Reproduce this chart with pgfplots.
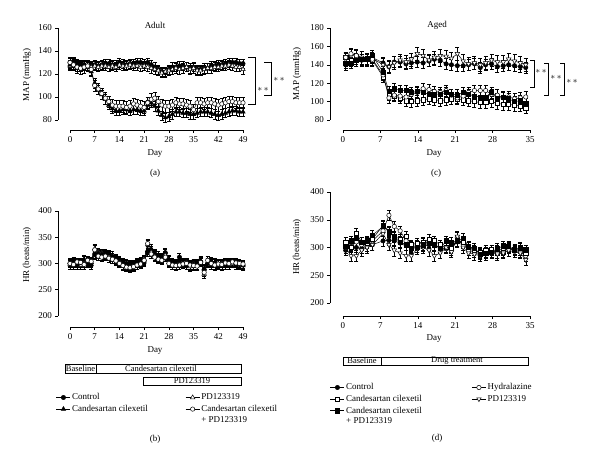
\documentclass[border=0pt]{standalone}
\usepackage{pgfplots}
\pgfplotsset{compat=1.18}
\usepackage{fontspec}
\setmainfont{Liberation Serif}
\newcommand\fs{\fontsize{9}{10.5}\selectfont}
\newcommand\fb{\fontsize{8.5}{10}\selectfont}
\pgfplotsset{
  base/.style={scale only axis, axis lines*=left, axis line style={draw=none},
    tick align=outside, major tick length=3pt, tick style={black, line width=0.5pt},
    tick label style={font=\fs}, /pgf/number format/assume math mode=true, clip=false,
    legend image code/.code={\draw[mark repeat=2,mark phase=2,##1] plot coordinates {(0pt,0pt) (7pt,0pt) (14pt,0pt)};}},
  ebar/.style={error bars/.cd, y dir=both, y fixed=#1,
    error mark options={rotate=90, mark size=2pt, line width=0.4pt}, error bar style={line width=0.4pt}},
  fc/.style={black, line width=0.5pt, mark=*, mark size=2.2pt, mark options={solid, fill=black}},
  oc/.style={black, line width=0.5pt, mark=*, mark size=2.2pt, mark options={solid, fill=white}},
  ft/.style={black, line width=0.5pt, mark=triangle*, mark size=2.6pt, mark options={solid, fill=black}},
  ot/.style={black, line width=0.5pt, mark=triangle*, mark size=2.6pt, mark options={solid, fill=white}},
  fsq/.style={black, line width=0.5pt, mark=square*, mark size=2.1pt, mark options={solid, fill=black}},
  osq/.style={black, line width=0.5pt, mark=square*, mark size=2.1pt, mark options={solid, fill=white}},
  it/.style={black, line width=0.5pt, mark=triangle*, mark size=2.6pt, mark options={solid, fill=white, rotate=180}},
}
\begin{document}
\begin{tikzpicture}
\path[use as bounding box] (0,0) rectangle (600pt,464pt);
\fs
% ---------------- (a) Adult MAP
\begin{axis}[base, at={(58pt,334pt)}, anchor=south west, width=185pt, height=102pt,
  xmin=-3.4, xmax=49, ymin=71.3, ymax=160, xtick={0,7,...,49}, ytick={80,100,...,160}]
\addplot[fc, ebar=4] coordinates {(0,130)(1,131)(2,129)(3,128)(4,128)(5,127)(6,127)(7,128)(8,127)(9,128)(10,129)(11,129)(12,128)(13,128)(14,130)(15,129)(16,128)(17,129)(18,129)(19,130)(20,130)(21,129)(22,130)(23,128)(24,126)(25,124)(26,122)(27,121)(28,124)(29,126)(30,126)(31,127)(32,127)(33,126)(34,125)(35,126)(36,124)(37,124)(38,125)(39,125)(40,127)(41,127)(42,128)(43,128)(44,129)(45,130)(46,130)(47,130)(48,129)(49,129)};
\addplot[ot, ebar=4] coordinates {(0,127)(1,128)(2,126)(3,126)(4,127)(5,126)(6,126)(7,127)(8,126)(9,127)(10,127)(11,126)(12,127)(13,126)(14,128)(15,127)(16,127)(17,128)(18,127)(19,127)(20,126)(21,127)(22,126)(23,125)(24,124)(25,123)(26,121)(27,122)(28,123)(29,124)(30,125)(31,124)(32,125)(33,126)(34,124)(35,125)(36,123)(37,123)(38,124)(39,125)(40,125)(41,126)(42,126)(43,127)(44,127)(45,128)(46,127)(47,126)(48,126)(49,124)};
\addplot[ft, ebar=4] coordinates {(0,128)(1,130)(2,128)(3,127)(4,128)(5,126)(6,122)(7,112)(8,106)(9,102)(10,98)(11,93)(12,90)(13,88)(14,88)(15,89)(16,89)(17,88)(18,89)(19,89)(20,88)(21,88)(22,93)(23,95)(24,92)(25,88)(26,84)(27,82)(28,83)(29,85)(30,87)(31,87)(32,86)(33,86)(34,85)(35,85)(36,86)(37,87)(38,87)(39,87)(40,86)(41,85)(42,84)(43,85)(44,86)(45,87)(46,88)(47,88)(48,87)(49,87)};
\addplot[oc, ebar=5] coordinates {(0,130)(1,128)(2,126)(3,125)(4,126)(5,127)(6,124)(7,110)(8,107)(9,103)(10,99)(11,96)(12,93)(13,92)(14,92)(15,92)(16,91)(17,92)(18,94)(19,93)(20,92)(21,91)(22,95)(23,98)(24,99)(25,96)(26,93)(27,92)(28,92)(29,93)(30,95)(31,94)(32,94)(33,93)(34,92)(35,89)(36,95)(37,95)(38,94)(39,95)(40,95)(41,94)(42,93)(43,94)(44,95)(45,96)(46,96)(47,95)(48,95)(49,95)};
\draw[line width=0.5pt] (axis cs:-3.4,80) -- (axis cs:-3.4,160);
\draw[line width=0.5pt] (axis cs:0,71.3) -- (axis cs:49,71.3);
\end{axis}
% ---------------- (c) Aged MAP
\begin{axis}[base, at={(330pt,334pt)}, anchor=south west, width=200pt, height=102pt,
  xmin=-2.43, xmax=35, ymin=69.1, ymax=180, xtick={0,7,...,35}, ytick={80,100,...,180}]
\addplot[fc, ebar=6] coordinates {(0.5,140)(1.5,142)(2.5,145)(3.5,145)(4.5,147)(5.5,148)(7.5,142)(8.6,138)(9.6,143)(10.7,143)(11.8,141)(12.8,142)(13.9,143)(15.0,142)(16.1,144)(17.1,146)(18.2,145)(19.3,141)(20.3,140)(21.4,139)(22.5,139)(23.5,140)(24.6,141)(25.7,137)(26.7,140)(27.8,141)(28.9,138)(30.0,139)(31.0,140)(32.1,139)(33.2,138)(34.2,137)};
\addplot[it, ebar=7] coordinates {(0.5,146)(1.5,150)(2.5,150)(3.5,148)(4.5,146)(5.5,147)(7.5,140)(8.6,138)(9.6,142)(10.7,145)(11.8,143)(12.8,146)(13.9,152)(15.0,150)(16.1,145)(17.1,148)(18.2,150)(19.3,149)(20.3,147)(21.4,152)(22.5,144)(23.5,141)(24.6,142)(25.7,140)(26.7,142)(27.8,145)(28.9,143)(30.0,143)(31.0,146)(32.1,144)(33.2,142)(34.2,140)};
\addplot[osq, ebar=6] coordinates {(0.5,148)(1.5,145)(2.5,147)(3.5,146)(4.5,146)(5.5,145)(7.5,127)(8.6,108)(9.6,106)(10.7,104)(11.8,101)(12.8,100)(13.9,101)(15.0,102)(16.1,103)(17.1,102)(18.2,101)(19.3,102)(20.3,103)(21.4,103)(22.5,102)(23.5,101)(24.6,100)(25.7,99)(26.7,99)(27.8,100)(28.9,98)(30.0,97)(31.0,97)(32.1,96)(33.2,95)(34.2,93)};
\addplot[oc, ebar=6] coordinates {(0.5,148)(1.5,152)(2.5,150)(3.5,146)(4.5,147)(5.5,146)(7.5,129)(8.6,104)(9.6,107)(10.7,106)(11.8,105)(12.8,108)(13.9,110)(15.0,114)(16.1,113)(17.1,111)(18.2,110)(19.3,112)(20.3,107)(21.4,104)(22.5,106)(23.5,110)(24.6,112)(25.7,112)(26.7,112)(27.8,108)(28.9,107)(30.0,104)(31.0,105)(32.1,103)(33.2,104)(34.2,105)};
\addplot[fsq, ebar=6] coordinates {(0.5,142)(1.5,142)(2.5,145)(3.5,146)(4.5,147)(5.5,150)(7.5,132)(8.6,111)(9.6,114)(10.7,112)(11.8,112)(12.8,110)(13.9,111)(15.0,110)(16.1,108)(17.1,108)(18.2,108)(19.3,110)(20.3,108)(21.4,107)(22.5,110)(23.5,108)(24.6,106)(25.7,105)(26.7,105)(27.8,110)(28.9,103)(30.0,105)(31.0,103)(32.1,100)(33.2,101)(34.2,98)};
\draw[line width=0.5pt] (axis cs:-2.43,80) -- (axis cs:-2.43,180);
\draw[line width=0.5pt] (axis cs:0,69.1) -- (axis cs:35,69.1);
\end{axis}
% ---------------- (b) Adult HR
\begin{axis}[base, at={(58pt,137pt)}, anchor=south west, width=185pt, height=116pt,
  xmin=-3.4, xmax=49, ymin=179, ymax=400, xtick={0,7,...,49}, ytick={200,250,...,400},
  legend columns=2, legend cell align=left,
  legend style={at={(0,0)}, anchor=north west, xshift=-2pt, yshift=-65pt, draw=none, fill=none,
    font=\fs, inner sep=0pt, row sep=1pt, nodes={inner sep=1.5pt},
    /tikz/every even column/.append style={column sep=36pt}}]
\addplot[fc, ebar=8] coordinates {(0,300)(1,302)(2,300)(3,298)(4,305)(5,302)(6,300)(7,318)(8,318)(9,315)(10,316)(11,314)(12,312)(13,308)(14,305)(15,303)(16,300)(17,298)(18,298)(19,300)(20,302)(21,305)(22,322)(23,325)(24,318)(25,312)(26,310)(27,320)(28,305)(29,302)(30,300)(31,312)(32,300)(33,300)(34,298)(35,300)(36,298)(37,303)(38,288)(39,300)(40,302)(41,300)(42,298)(43,298)(44,300)(45,302)(46,300)(47,298)(48,298)(49,297)};
\addlegendentry{Control}
\addplot[ot, ebar=8] coordinates {(0,298)(1,300)(2,301)(3,297)(4,300)(5,304)(6,302)(7,328)(8,322)(9,320)(10,318)(11,316)(12,312)(13,306)(14,304)(15,298)(16,295)(17,294)(18,296)(19,298)(20,300)(21,308)(22,336)(23,322)(24,315)(25,310)(26,308)(27,316)(28,302)(29,298)(30,297)(31,298)(32,300)(33,302)(34,294)(35,300)(36,296)(37,304)(38,280)(39,302)(40,298)(41,296)(42,298)(43,300)(44,302)(45,298)(46,300)(47,302)(48,300)(49,298)};
\addlegendentry{PD123319}
\addplot[ft, ebar=8] coordinates {(0,302)(1,304)(2,298)(3,300)(4,308)(5,300)(6,298)(7,316)(8,320)(9,318)(10,320)(11,318)(12,315)(13,310)(14,303)(15,300)(16,298)(17,296)(18,297)(19,302)(20,304)(21,303)(22,325)(23,328)(24,320)(25,315)(26,312)(27,322)(28,308)(29,300)(30,298)(31,300)(32,302)(33,298)(34,296)(35,298)(36,300)(37,306)(38,290)(39,302)(40,304)(41,302)(42,300)(43,296)(44,298)(45,300)(46,302)(47,300)(48,299)(49,296)};
\addlegendentry{Candesartan cilexetil}
\addplot[oc, ebar=8] coordinates {(0,300)(1,298)(2,303)(3,302)(4,298)(5,306)(6,304)(7,326)(8,314)(9,312)(10,314)(11,310)(12,308)(13,305)(14,300)(15,296)(16,293)(17,292)(18,294)(19,297)(20,299)(21,306)(22,338)(23,318)(24,312)(25,308)(26,306)(27,312)(28,300)(29,297)(30,296)(31,297)(32,299)(33,300)(34,297)(35,296)(36,295)(37,302)(38,283)(39,306)(40,300)(41,297)(42,299)(43,298)(44,301)(45,300)(46,303)(47,301)(48,300)(49,299)};
\addlegendentry{\parbox[t]{100pt}{Candesartan cilexetil\\+ PD123319}}
\draw[line width=0.5pt] (axis cs:-3.4,200) -- (axis cs:-3.4,400);
\draw[line width=0.5pt] (axis cs:0,179) -- (axis cs:49,179);
\end{axis}
% ---------------- (d) Aged HR
\begin{axis}[base, at={(330pt,148pt)}, anchor=south west, width=200pt, height=124pt,
  xmin=-2.43, xmax=35, ymin=176.6, ymax=400, xtick={0,7,...,35}, ytick={200,250,...,400},
  legend columns=2, legend cell align=left,
  legend style={at={(0,0)}, anchor=north west, xshift=0pt, yshift=-66pt, draw=none, fill=none,
    font=\fs, inner sep=0pt, row sep=1pt, nodes={inner sep=1.5pt},
    /tikz/every even column/.append style={column sep=24pt}}]
\addplot[fc, ebar=9] coordinates {(0.5,295)(1.5,300)(2.5,300)(3.5,298)(4.5,303)(5.5,305)(7.5,312)(8.6,313)(9.6,312)(10.7,308)(11.8,305)(12.8,302)(13.9,300)(15.0,302)(16.1,305)(17.1,305)(18.2,300)(19.3,298)(20.3,300)(21.4,310)(22.5,308)(23.5,300)(24.6,295)(25.7,290)(26.7,290)(27.8,292)(28.9,295)(30.0,297)(31.0,298)(32.1,296)(33.2,295)(34.2,295)};
\addlegendentry{Control}
\addplot[oc, ebar=9] coordinates {(0.5,305)(1.5,302)(2.5,310)(3.5,305)(4.5,310)(5.5,312)(7.5,330)(8.6,358)(9.6,338)(10.7,330)(11.8,312)(12.8,300)(13.9,305)(15.0,308)(16.1,310)(17.1,303)(18.2,300)(19.3,298)(20.3,295)(21.4,318)(22.5,305)(23.5,295)(24.6,292)(25.7,288)(26.7,292)(27.8,292)(28.9,290)(30.0,295)(31.0,298)(32.1,295)(33.2,292)(34.2,285)};
\addlegendentry{Hydralazine}
\addplot[osq, ebar=9] coordinates {(0.5,310)(1.5,300)(2.5,325)(3.5,310)(4.5,308)(5.5,315)(7.5,340)(8.6,330)(9.6,320)(10.7,315)(11.8,320)(12.8,305)(13.9,308)(15.0,310)(16.1,315)(17.1,312)(18.2,305)(19.3,300)(20.3,298)(21.4,312)(22.5,310)(23.5,300)(24.6,295)(25.7,292)(26.7,295)(27.8,296)(28.9,290)(30.0,292)(31.0,300)(32.1,297)(33.2,300)(34.2,290)};
\addlegendentry{Candesartan cilexetil}
\addplot[it, ebar=10] coordinates {(0.5,300)(1.5,285)(2.5,285)(3.5,295)(4.5,300)(5.5,305)(7.5,325)(8.6,305)(9.6,295)(10.7,290)(11.8,285)(12.8,285)(13.9,298)(15.0,300)(16.1,295)(17.1,285)(18.2,290)(19.3,300)(20.3,292)(21.4,320)(22.5,300)(23.5,290)(24.6,288)(25.7,285)(26.7,288)(27.8,290)(28.9,288)(30.0,290)(31.0,295)(32.1,292)(33.2,290)(34.2,278)};
\addlegendentry{PD123319}
\addplot[fsq, ebar=9] coordinates {(0.5,302)(1.5,312)(2.5,317)(3.5,310)(4.5,312)(5.5,322)(7.5,338)(8.6,328)(9.6,318)(10.7,310)(11.8,305)(12.8,298)(13.9,300)(15.0,305)(16.1,308)(17.1,305)(18.2,298)(19.3,312)(20.3,310)(21.4,312)(22.5,317)(23.5,302)(24.6,298)(25.7,288)(26.7,290)(27.8,292)(28.9,298)(30.0,303)(31.0,302)(32.1,296)(33.2,298)(34.2,296)};
\addlegendentry{\parbox[t]{100pt}{Candesartan cilexetil\\+ PD123319}}
\draw[line width=0.5pt] (axis cs:-2.43,200) -- (axis cs:-2.43,400);
\draw[line width=0.5pt] (axis cs:0,176.6) -- (axis cs:35,176.6);
\end{axis}
% ---------------- labels
\node at (155pt,439pt) {Adult};
\node at (437pt,439pt) {Aged};
\node[rotate=90] at (27pt,389pt) {MAP (mmHg)};
\node[rotate=90] at (297pt,390pt) {MAP (mmHg)};
\node[rotate=90] at (27pt,209pt) {HR (beats/min)};
\node[rotate=90] at (297pt,217pt) {HR (beats/min)};
\node at (155pt,310pt) {Day};
\node at (434pt,310pt) {Day};
\node at (155pt,113pt) {Day};
\node at (434pt,125pt) {Day};
\node at (155pt,291pt) {(a)};
\node at (436pt,291pt) {(c)};
\node at (155pt,25pt) {(b)};
\node at (437pt,26pt) {(d)};
% significance brackets
\draw[line width=0.5pt] (248pt,407pt) -- (255pt,407pt) -- (255pt,360pt) -- (248pt,360pt);
\node at (263pt,375pt) {$*\,*$};
\draw[line width=0.5pt] (264pt,402pt) -- (271pt,402pt) -- (271pt,369pt) -- (264pt,369pt);
\node at (279pt,385pt) {$*\,*$};
\draw[line width=0.5pt] (530pt,404pt) -- (534pt,404pt) -- (534pt,377pt) -- (530pt,377pt);
\node at (541pt,393pt) {$*\,*$};
\draw[line width=0.5pt] (544pt,401pt) -- (548pt,401pt) -- (548pt,369pt) -- (544pt,369pt);
\node at (556pt,387pt) {$*\,*$};
\draw[line width=0.5pt] (560pt,401pt) -- (564pt,401pt) -- (564pt,369pt) -- (560pt,369pt);
\node at (572pt,383pt) {$*\,*$};
% treatment bars
\draw[line width=0.5pt] (65pt,91pt) rectangle (241pt,100pt);
\draw[line width=0.5pt] (96pt,91pt) -- (96pt,100pt);
\node[font=\fb, inner sep=0pt] at (80.5pt,95.5pt) {Baseline};
\node[font=\fb, inner sep=0pt] at (161pt,95.5pt) {Candesartan cilexetil};
\draw[line width=0.5pt] (143pt,79pt) rectangle (241pt,87pt);
\node[font=\fb, inner sep=0pt] at (192pt,83pt) {PD123319};
\draw[line width=0.5pt] (343pt,99pt) rectangle (528pt,107pt);
\draw[line width=0.5pt] (381pt,99pt) -- (381pt,107pt);
\node[font=\fb, inner sep=0pt] at (362pt,103pt) {Baseline};
\node[font=\fb, inner sep=0pt] at (457pt,103pt) {Drug treatment};
\end{tikzpicture}
\end{document}
